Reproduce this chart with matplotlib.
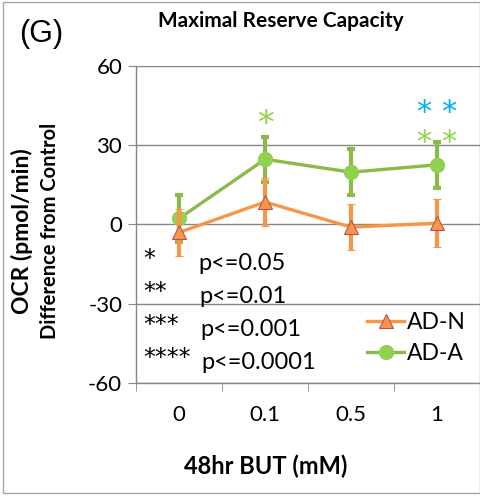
import matplotlib
matplotlib.use("Agg")
import matplotlib.pyplot as plt
from matplotlib.patches import Rectangle
from matplotlib.lines import Line2D

categories = ["0", "0.1", "0.5", "1"]
ad_n = [-3.0, 8.5, -1.0, 0.5]
ad_n_err = [8.8, 9.0, 8.7, 9.0]
ad_a = [2.3, 24.7, 19.8, 22.6]
ad_a_err = [9.0, 8.5, 8.8, 8.7]
y_ticks = [-60, -30, 0, 30, 60]
sig_legend = [("*", "p<=0.05"), ("**", "p<=0.01"), ("***", "p<=0.001"), ("****", "p<=0.0001")]

FONT = ["Lato", "DejaVu Sans"]
plt.rcParams["font.family"] = FONT

ORANGE = "#F79646"
ORANGE_EDGE = "#C0504D"
GREEN_LINE = "#8DB84A"
GREEN = "#92D050"
BLUE = "#00B0F0"
GRID = "#868686"

fig = plt.figure(figsize=(4.81, 4.97), dpi=100)
fig.patches.append(Rectangle((0.006, 0.008), 0.992, 0.988, transform=fig.transFigure,
                             fill=False, edgecolor="#A6A6A6", lw=1.0))

ax = fig.add_axes([0.283, 0.2294, 0.715, 0.6378])
x = list(range(len(categories)))

ax.errorbar(x, ad_a, yerr=ad_a_err, color=GREEN_LINE, lw=2.4, marker="o", ms=10,
            mfc=GREEN, mec=GREEN, elinewidth=3, capsize=3, capthick=3,
            ecolor=GREEN_LINE, zorder=3)
ax.errorbar(x, ad_n, yerr=ad_n_err, color=ORANGE, lw=2.4, marker="^", ms=10,
            mfc=ORANGE, mec=ORANGE_EDGE, mew=0.8, elinewidth=3, capsize=3, capthick=3,
            ecolor=ORANGE, zorder=4)

ax.set_xlim(-0.5, len(categories) - 0.5)
ax.set_ylim(-60, 60)
ax.set_yticks(y_ticks)
ax.set_yticklabels([str(v) for v in y_ticks], fontsize=16)
ax.set_xticks(x)
ax.set_xticklabels(categories, fontsize=16)
ax.set_xticks([i - 0.5 for i in range(len(categories) + 1)], minor=True)
ax.tick_params(axis="x", which="major", length=0, pad=16)
ax.tick_params(axis="x", which="minor", length=6, color=GRID, direction="out")
ax.tick_params(axis="y", length=6, color=GRID, direction="out", pad=4)
ax.grid(axis="y", color=GRID, lw=1.0, zorder=0)
ax.set_axisbelow(True)
for side in ("top", "right"):
    ax.spines[side].set_visible(False)
for side in ("left", "bottom"):
    ax.spines[side].set_color(GRID)
    ax.spines[side].set_linewidth(1.0)

# significance markers
ax.text(1, 31.5, "*", color=GREEN, fontsize=24, ha="center", va="bottom", family="DejaVu Sans")
ax.text(3, 37.0, "* *", color=BLUE, fontsize=22, ha="center", va="bottom", family="DejaVu Sans")
ax.text(3, 25.6, "* *", color=GREEN, fontsize=22, ha="center", va="bottom", family="DejaVu Sans")

# p-value key
for i, (stars, txt) in enumerate(sig_legend):
    y = 0.378 - i * 0.104
    ax.text(0.022, y + 0.014, stars, transform=ax.transAxes, fontsize=17, ha="left", va="center",
            family="DejaVu Sans")
    ax.text(0.18 + 0.003 * i, y, txt, transform=ax.transAxes, fontsize=17,
            ha="left", va="center")

handles = [
    Line2D([], [], color=ORANGE, lw=2.4, marker="^", ms=10, mfc=ORANGE, mec=ORANGE_EDGE, mew=0.8),
    Line2D([], [], color=GREEN_LINE, lw=2.4, marker="o", ms=10, mfc=GREEN, mec=GREEN),
]
ax.legend(handles, ["AD-N", "AD-A"], loc="lower right", bbox_to_anchor=(1.0, 0.015),
          frameon=False, fontsize=16.5, handlelength=1.6, handletextpad=0.15,
          labelspacing=0.45, borderaxespad=0.2)

fig.text(0.584, 0.958, "Maximal Reserve Capacity", fontsize=15, fontweight="bold",
         ha="center", va="center")
fig.text(0.04, 0.932, "(G)", fontsize=22, ha="left", va="center", family="Liberation Sans")
fig.text(0.046, 0.535, "OCR (pmol/min)", fontsize=16.5, fontweight="bold", rotation=90,
         ha="center", va="center")
fig.text(0.104, 0.535, "Difference from Control", fontsize=14.5, fontweight="bold", rotation=90,
         ha="center", va="center")
fig.text(0.552, 0.062, "48hr BUT (mM)", fontsize=17, fontweight="bold", ha="center", va="center")

fig.savefig("out.png", dpi=100)
